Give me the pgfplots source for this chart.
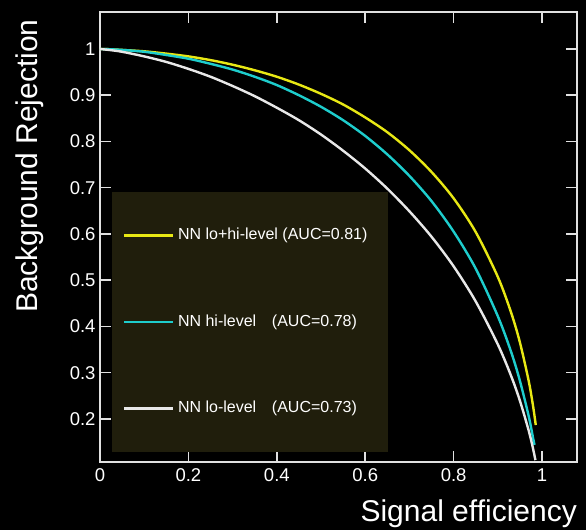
\documentclass[border=0pt]{standalone}
\usepackage{pgfplots}
\pgfplotsset{compat=1.18}
\usepackage{fontspec}
\setmainfont{Liberation Sans}
\definecolor{legbg}{RGB}{32,30,12}
\definecolor{cyellow}{RGB}{232,232,20}
\definecolor{ccyan}{RGB}{30,205,205}
\definecolor{cwhite}{RGB}{232,232,232}
\definecolor{frame}{RGB}{225,225,225}
\begin{document}
\begin{tikzpicture}
\fill[black] (-100bp,-68bp) rectangle (486bp,462bp);
\begin{axis}[
  scale only axis,
  width=477bp, height=450bp,
  xmin=0, xmax=1.079, ymin=0.107, ymax=1.08,
  xtick={0,0.2,0.4,0.6,0.8,1},
  ytick={0.2,0.3,0.4,0.5,0.6,0.7,0.8,0.9,1},
  tick pos=both, tick align=inside,
  xticklabel pos=lower, yticklabel pos=left,
  major tick length=11bp,
  axis line style={frame, line width=1.5bp},
  every tick/.style={frame, line width=1.5bp},
  /pgf/number format/assume math mode=true,
  ticklabel style={text=white, font=\fontsize{18.5bp}{22bp}\selectfont},
  xticklabel style={yshift=-3bp},
  yticklabel style={xshift=-1bp},
  xlabel={Signal efficiency},
  ylabel={Background Rejection},
  xlabel style={at={(axis description cs:1,-0.1333)}, anchor=base east, inner sep=0pt, text=white, font=\fontsize{30bp}{36bp}\selectfont},
  ylabel style={at={(axis description cs:-0.13,0.331)}, anchor=base west, inner sep=0pt, text=white, font=\fontsize{30bp}{36bp}\selectfont},
  legend cell align=left,
  legend image code/.code={\draw[#1] (0bp,0bp) -- (49bp,0bp);},
  legend style={at={(axis description cs:0.025,0.6)}, anchor=north west,
    fill=legbg, draw=none, text=white,
    inner xsep=11bp, inner ysep=35.5bp, row sep=70.5bp,
    font=\fontsize{16bp}{19bp}\selectfont,
    nodes={inner sep=0pt, inner xsep=3.5bp, text height=12bp, text depth=4bp}},
]
\addplot[cyellow, line width=2.4bp, smooth] coordinates {
(0,1) (0.02,0.9996) (0.05,0.998) (0.1,0.995) (0.15,0.990) (0.2,0.984) (0.25,0.976)
(0.3,0.966) (0.35,0.954) (0.4,0.940) (0.45,0.923) (0.5,0.903) (0.55,0.880) (0.6,0.852)
(0.65,0.820) (0.7,0.781) (0.75,0.734) (0.8,0.677) (0.85,0.604) (0.9,0.507) (0.93,0.430)
(0.95,0.365) (0.97,0.281) (0.98,0.2255) (0.9857,0.187)};
\addlegendentry{NN lo+hi-level (AUC=0.81)\rule{6bp}{0pt}}
\addplot[ccyan, line width=2.4bp, smooth] coordinates {
(0,1) (0.02,0.9995) (0.05,0.998) (0.1,0.994) (0.15,0.987) (0.2,0.979) (0.25,0.968)
(0.3,0.9555) (0.35,0.940) (0.4,0.922) (0.45,0.900) (0.5,0.875) (0.55,0.846) (0.6,0.812)
(0.65,0.772) (0.7,0.7255) (0.75,0.671) (0.8,0.605) (0.85,0.525) (0.9,0.422) (0.93,0.345)
(0.95,0.282) (0.97,0.205) (0.98,0.157) (0.983,0.144)};
\addlegendentry{\makebox[94bp][l]{NN hi-level}(AUC=0.78)}
\addplot[cwhite, line width=2.4bp, smooth] coordinates {
(0,1) (0.02,0.998) (0.05,0.994) (0.1,0.984) (0.15,0.972) (0.2,0.957) (0.25,0.940)
(0.3,0.920) (0.35,0.898) (0.4,0.873) (0.45,0.846) (0.5,0.815) (0.55,0.780) (0.6,0.7415)
(0.65,0.698) (0.7,0.649) (0.75,0.594) (0.8,0.530) (0.85,0.454) (0.9,0.361) (0.93,0.293)
(0.95,0.239) (0.97,0.174) (0.98,0.134) (0.985,0.111)};
\addlegendentry{\makebox[94bp][l]{NN lo-level}(AUC=0.73)}
\end{axis}
\pgfresetboundingbox
\path[use as bounding box] (-100bp,-68bp) rectangle (486bp,462bp);
\end{tikzpicture}
\end{document}
